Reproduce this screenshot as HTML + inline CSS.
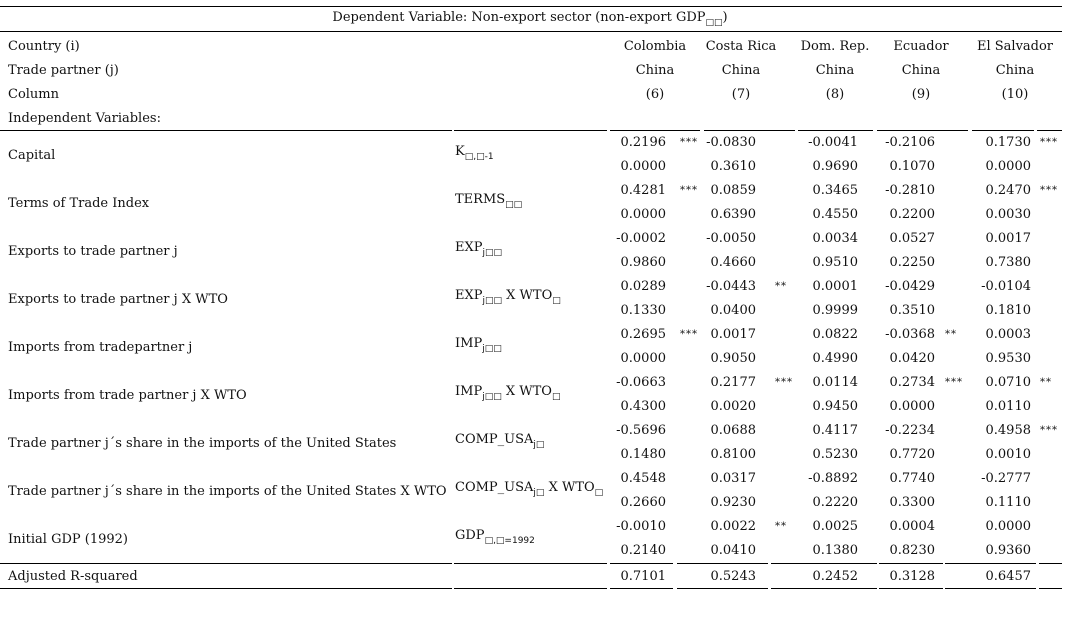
<!DOCTYPE html>
<html><head><meta charset="utf-8">
<style>
body{margin:0;background:#fff;width:1068px;height:620px;overflow:hidden;position:relative;font-family:"DejaVu Serif","Liberation Serif",serif;font-size:13px;color:#111}
.t{position:absolute;white-space:nowrap;line-height:14px}
.r{text-align:right}
.c{text-align:center}
.ln{position:absolute;height:1px;background:#000}
sub{font-size:9px;font-family:"DejaVu Sans",sans-serif;vertical-align:-4px}
.st{font-size:10px;letter-spacing:1px}
</style></head>
<body>
<div id="tbl"></div>
<script>
const countries=["Colombia","Costa Rica","Dom. Rep.","Ecuador","El Salvador"];
const columnNums=["(6)","(7)","(8)","(9)","(10)"];
const varLabels=["Capital","Terms of Trade Index","Exports to trade partner j","Exports to trade partner j X WTO","Imports from tradepartner j","Imports from trade partner j X WTO","Trade partner j´s share in the imports of the United States","Trade partner j´s share in the imports of the United States X WTO","Initial GDP (1992)"];
const varSymbols=["K<sub>□,□-1</sub>","TERMS<sub>□□</sub>","EXP<sub>j□□</sub>","EXP<sub>j□□</sub> X WTO<sub>□</sub>","IMP<sub>j□□</sub>","IMP<sub>j□□</sub> X WTO<sub>□</sub>","COMP_USA<sub>j□</sub>","COMP_USA<sub>j□</sub> X WTO<sub>□</sub>","GDP<sub>□,□=1992</sub>"];
const coefs=[
["0.2196","-0.0830","-0.0041","-0.2106","0.1730"],
["0.4281","0.0859","0.3465","-0.2810","0.2470"],
["-0.0002","-0.0050","0.0034","0.0527","0.0017"],
["0.0289","-0.0443","0.0001","-0.0429","-0.0104"],
["0.2695","0.0017","0.0822","-0.0368","0.0003"],
["-0.0663","0.2177","0.0114","0.2734","0.0710"],
["-0.5696","0.0688","0.4117","-0.2234","0.4958"],
["0.4548","0.0317","-0.8892","0.7740","-0.2777"],
["-0.0010","0.0022","0.0025","0.0004","0.0000"]];
const pvals=[
["0.0000","0.3610","0.9690","0.1070","0.0000"],
["0.0000","0.6390","0.4550","0.2200","0.0030"],
["0.9860","0.4660","0.9510","0.2250","0.7380"],
["0.1330","0.0400","0.9999","0.3510","0.1810"],
["0.0000","0.9050","0.4990","0.0420","0.9530"],
["0.4300","0.0020","0.9450","0.0000","0.0110"],
["0.1480","0.8100","0.5230","0.7720","0.0010"],
["0.2660","0.9230","0.2220","0.3300","0.1110"],
["0.2140","0.0410","0.1380","0.8230","0.9360"]];
const stars=[
["***","","","","***"],
["***","","","","***"],
["","","","",""],
["","**","","",""],
["***","","","**",""],
["","***","","***","**"],
["","","","","***"],
["","","","",""],
["","**","","",""]];
const adjR2=["0.7101","0.5243","0.2452","0.3128","0.6457"];

const root=document.getElementById('tbl');
const colRight=[666,756,858,935,1031];
const starX=[680,775,858,945,1040];
const headCenter=[655,741,835,921,1015];
function txt(html,x,y,cls,name){
  const d=document.createElement('div');
  d.className='t '+(cls||'');
  d.innerHTML=html;
  d.style.top=(y-7)+'px';
  if(cls==='r'){d.style.left=(x-100)+'px';d.style.width='100px';}
  else if(cls==='c'){d.style.left=(x-60)+'px';d.style.width='120px';}
  else d.style.left=x+'px';
  
  
  root.appendChild(d);return d;
}
function line(x1,x2,y,name){
  const d=document.createElement('div');
  d.className='ln';d.style.left=x1+'px';d.style.width=(x2-x1)+'px';d.style.top=y+'px';
  
  
  root.appendChild(d);
}
line(0,1062,6,'top-rule');
line(0,1062,31,'header-rule');
const title=txt('Dependent Variable: Non-export sector (non-export GDP<sub>□□</sub>)',530,18,'c','dependent-variable-title');
title.style.width='500px';
title.style.left='280px';
txt('Country (i)',8,47,'','country-label');
txt('Trade partner (j)',8,71,'','trade-partner-label');
txt('Column',8,95,'','column-label');
txt('Independent Variables:',8,119,'','independent-variables-label');
countries.forEach((c,i)=>{
  txt(c,headCenter[i],47,'c','country-header');
  txt('China',headCenter[i],71,'c','partner-header');
  txt(columnNums[i],headCenter[i],95,'c','column-number');
});
const segs=[[0,452],[454,607],[610,700],[704,795],[798,873],[877,968],[972,1034],[1037,1062]];
segs.forEach(s=>line(s[0],s[1],130,'section-rule'));
const segsB=[[0,452],[454,607],[610,673],[677,768],[771,877],[879,943],[945,1036],[1039,1062]];
varLabels.forEach((lab,r)=>{
  const y0=143+r*48;
  txt(lab,8,y0+13,'','variable-label');
  txt(varSymbols[r],455,y0+9,'','variable-symbol');
  for(let c=0;c<5;c++){
    txt(coefs[r][c],colRight[c],y0,'r','coefficient');
    txt(pvals[r][c],colRight[c],y0+24,'r','p-value');
    if(stars[r][c]) txt('<span class="st">'+stars[r][c]+'</span>',starX[c],y0-1,'','significance-stars');
  }
});
segsB.forEach(s=>line(s[0],s[1],563,'bottom-rule'));
txt('Adjusted R-squared',8,577,'','adjusted-r2-label');
adjR2.forEach((v,c)=>txt(v,colRight[c],577,'r','adjusted-r2'));
segsB.forEach(s=>line(s[0],s[1],588,'final-rule'));
</script>
</body></html>
